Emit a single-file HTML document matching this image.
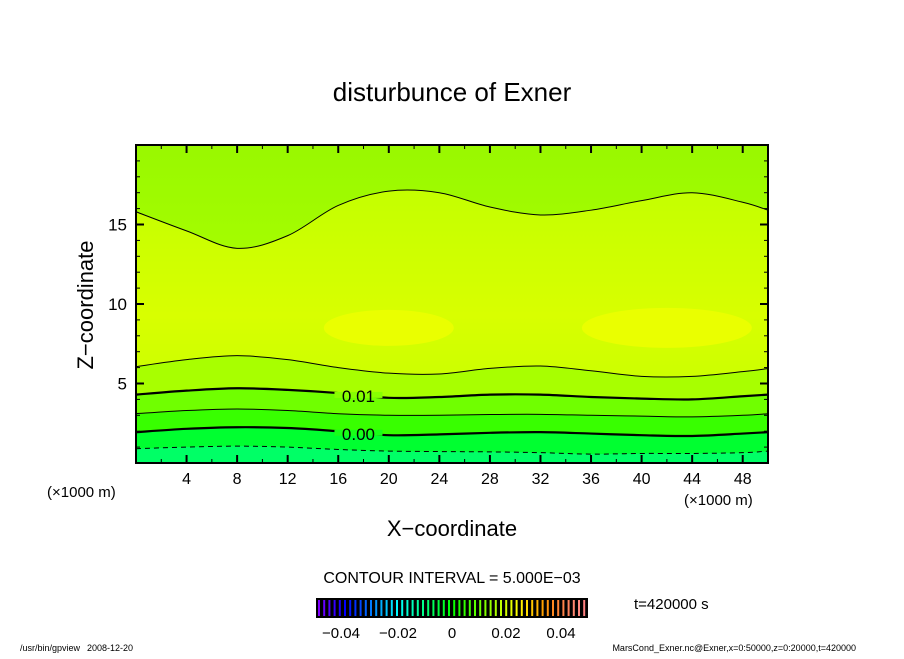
<!DOCTYPE html>
<html><head><meta charset="utf-8"><style>
body{margin:0;background:#fff;width:904px;height:654px;overflow:hidden;font-family:"Liberation Sans",sans-serif}
svg text{font-family:"Liberation Sans",sans-serif;fill:#000}
</style></head><body>
<svg id="c" width="904" height="654">
<text x="452" y="101" font-size="26" text-anchor="middle">disturbunce of Exner</text>
<defs><clipPath id="pc"><rect x="136" y="145" width="632" height="318"/></clipPath>
<linearGradient id="top" x1="0" y1="0" x2="0" y2="1"><stop offset="0" stop-color="#99f800"/><stop offset="0.5" stop-color="#aaff00"/><stop offset="1" stop-color="#c0ff00"/></linearGradient>
<linearGradient id="mid" x1="0" y1="0" x2="0" y2="1"><stop offset="0" stop-color="#c4ff00"/><stop offset="0.45" stop-color="#d8ff00"/><stop offset="0.75" stop-color="#c8ff00"/><stop offset="1" stop-color="#c0ff00"/></linearGradient>
</defs>
<g id="plot" clip-path="url(#pc)"></g>
<rect x="136" y="145" width="632" height="318" fill="none" stroke="#000" stroke-width="2"/>
<g id="ax"></g>
<text x="47" y="497" font-size="15">(×1000 m)</text>
<text x="684" y="505" font-size="15">(×1000 m)</text>
<text x="452" y="536" font-size="22" text-anchor="middle">X−coordinate</text>
<text transform="translate(93,305) rotate(-90)" font-size="22" text-anchor="middle">Z−coordinate</text>
<text x="452" y="583" font-size="16" text-anchor="middle">CONTOUR INTERVAL = 5.000E−03</text>
<rect x="316" y="598" width="272" height="20" fill="#000"/>
<g id="cb"></g>
<text x="341" y="638" font-size="15" text-anchor="middle">−0.04</text>
<text x="398" y="638" font-size="15" text-anchor="middle">−0.02</text>
<text x="452" y="638" font-size="15" text-anchor="middle">0</text>
<text x="506" y="638" font-size="15" text-anchor="middle">0.02</text>
<text x="561" y="638" font-size="15" text-anchor="middle">0.04</text>
<text x="634" y="609" font-size="15">t=420000 s</text>
<text x="20" y="651" font-size="9">/usr/bin/gpview</text>
<text x="87" y="651" font-size="9">2008-12-20</text>
<text x="856" y="651" font-size="9" text-anchor="end">MarsCond_Exner.nc@Exner,x=0:50000,z=0:20000,t=420000</text>
</svg>
<script>
const xs=[0,4,8,12,16,20,24,28,32,36,40,44,48,50];
const lineA=[15.8,14.6,13.5,14.3,16.2,17.1,17.0,16.1,15.6,15.9,16.5,17.0,16.4,15.9];
const lineB=[6.06,6.5,6.75,6.5,6.0,5.65,5.6,5.95,6.1,5.8,5.45,5.45,5.75,5.94];
const lineC=[4.3,4.55,4.7,4.6,4.4,4.1,4.15,4.3,4.3,4.15,4.05,4.0,4.2,4.3];
const lineD=[3.1,3.3,3.4,3.3,3.1,3.0,3.0,3.05,3.06,3.0,2.95,2.9,3.0,3.1];
const lineE=[1.94,2.15,2.25,2.2,2.0,1.75,1.8,1.9,1.94,1.85,1.75,1.7,1.85,1.94];
const lineF=[0.9,1.0,1.06,1.0,0.85,0.75,0.72,0.7,0.65,0.56,0.6,0.6,0.65,0.75];
const xTicks=[4,8,12,16,20,24,28,32,36,40,44,48];
const yTicks=[5,10,15];
const X=v=>136+v*632/50, Y=v=>463-v*318/20;
const NS="http://www.w3.org/2000/svg";
function mk(t,a,p){const e=document.createElementNS(NS,t);for(const k in a)e.setAttribute(k,a[k]);p.appendChild(e);return e;}
function curve(zs){const p=xs.map((x,i)=>[X(x),Y(zs[i])]);let d="M"+p[0][0]+","+p[0][1];
for(let i=0;i<p.length-1;i++){const p0=p[Math.max(0,i-1)],p1=p[i],p2=p[i+1],p3=p[Math.min(p.length-1,i+2)];
d+=` C${p1[0]+(p2[0]-p0[0])/6},${p1[1]+(p2[1]-p0[1])/6} ${p2[0]-(p3[0]-p1[0])/6},${p2[1]-(p3[1]-p1[1])/6} ${p2[0]},${p2[1]}`;}return d;}
const plot=document.getElementById('plot');
let r=mk('rect',{x:136,y:145,width:632,height:318,fill:'url(#top)'},plot);

const fills=[[lineA,'url(#mid)','region-a'],[lineB,'#a8ff00','region-b'],[lineC,'#70ff00','region-c'],[lineD,'#38ff00','region-d'],[lineE,'#00ff30','region-e'],[lineF,'#00ff66','region-f']];
fills.forEach(([l,c,n])=>{const e=mk('path',{d:curve(l)+" L768,470 L136,470 Z",fill:c},plot);
});
[[20,8.5,65,18],[42,8.5,85,20]].forEach(([cx,cz,rx,ry],i)=>{const e=mk('ellipse',{cx:X(cx),cy:Y(cz),rx,ry,fill:'#eaff00'},plot);
});
const lines=[[lineA,1,null,'contour-0.02'],[lineB,1,null,'contour-0.015'],[lineC,2.2,null,'contour-0.01'],[lineD,1,null,'contour-0.005'],[lineE,2.2,null,'contour-0.00'],[lineF,1,'5,4','contour-neg0.005']];
lines.forEach(([l,w,da,n])=>{const a={d:curve(l),fill:'none',stroke:'#000','stroke-width':w};if(da)a['stroke-dasharray']=da;
const e=mk('path',a,plot);});
[[lineC,'0.01','#88ff00'],[lineE,'0.00','#18ff18']].forEach(([l,t,bg])=>{const x=X(17.6);const y=Y(l[4]*0.6+l[5]*0.4);
mk('rect',{x:x-24,y:y-3,width:48,height:6,fill:bg},plot);
const e=mk('text',{x:x,y:y+7,'font-size':17,'text-anchor':'middle'},plot);e.textContent=t;
});
const ax=document.getElementById('ax');
for(let v=2;v<50;v+=2){const maj=v%4==0;const h=maj?8:4;
mk('line',{x1:X(v),x2:X(v),y1:463,y2:463-h,stroke:'#000','stroke-width':maj?2:1},ax);
mk('line',{x1:X(v),x2:X(v),y1:145,y2:145+h,stroke:'#000','stroke-width':maj?2:1},ax);}
for(let v=1;v<20;v++){const maj=v%5==0;const h=maj?8:4;
mk('line',{x1:136,x2:136+h,y1:Y(v),y2:Y(v),stroke:'#000','stroke-width':maj?2:1},ax);
mk('line',{x1:768,x2:768-h,y1:Y(v),y2:Y(v),stroke:'#000','stroke-width':maj?2:1},ax);}
xTicks.forEach(v=>{const e=mk('text',{x:X(v),y:484,'font-size':16,'text-anchor':'middle'},ax);e.textContent=v;
});
yTicks.forEach(v=>{const e=mk('text',{x:127,y:Y(v)+6,'font-size':17,'text-anchor':'end'},ax);e.textContent=v;
});
const cb=document.getElementById('cb');
const n=52;for(let i=0;i<n;i++){const t=i/(n-1);const hue=t<0.5?270-t*2*150:120-(t-0.5)*2*120;
const l=t>0.85?50+(t-0.85)*200:50;
mk('rect',{x:318+i*5.2,y:600,width:2,height:16,fill:`hsl(${hue},100%,${Math.min(l,75)}%)`},cb);}
</script>
</body></html>
